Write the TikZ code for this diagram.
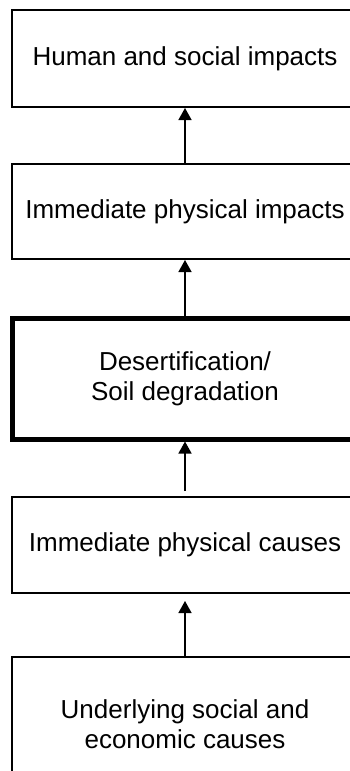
\documentclass[tikz,border=0pt]{standalone}
\usepackage{fontspec}
\setmainfont{Liberation Sans}
\usetikzlibrary{arrows.meta}
\begin{document}
\begin{tikzpicture}[x=1pt,y=-1pt,
  box/.style={draw,line width=2pt,rectangle,inner sep=0pt,minimum width=346pt,
    align=center,font=\fontsize{26}{30}\selectfont},
  thickbox/.style={box,line width=5pt},
  arr/.style={line width=1.4pt,-{Triangle[length=12pt,width=13pt]}}]
\useasboundingbox (0,0) rectangle (350,771);
\clip (0,0) rectangle (350,771);
\node[box,minimum height=97pt] (hum) at (185,58.5) {Human and social impacts};
\node[box,minimum height=95pt] (imp) at (185,211.5) {Immediate physical impacts};
\node[thickbox,minimum height=121pt] (des) at (185,378.5) {Desertification/\\Soil degradation};
\node[box,minimum height=96pt] (cau) at (185,545) {Immediate physical causes};
\node[box,minimum height=134pt] (und) at (185,724) {Underlying social and\\economic causes};
\draw[arr] (imp.north) -- (hum.south);
\draw[arr] (des.north) -- (imp.south);
\draw[arr,shorten <=5pt] (cau.north) -- (des.south);
\draw[arr,shorten >=7pt] (und.north) -- (cau.south);
\end{tikzpicture}
\end{document}
